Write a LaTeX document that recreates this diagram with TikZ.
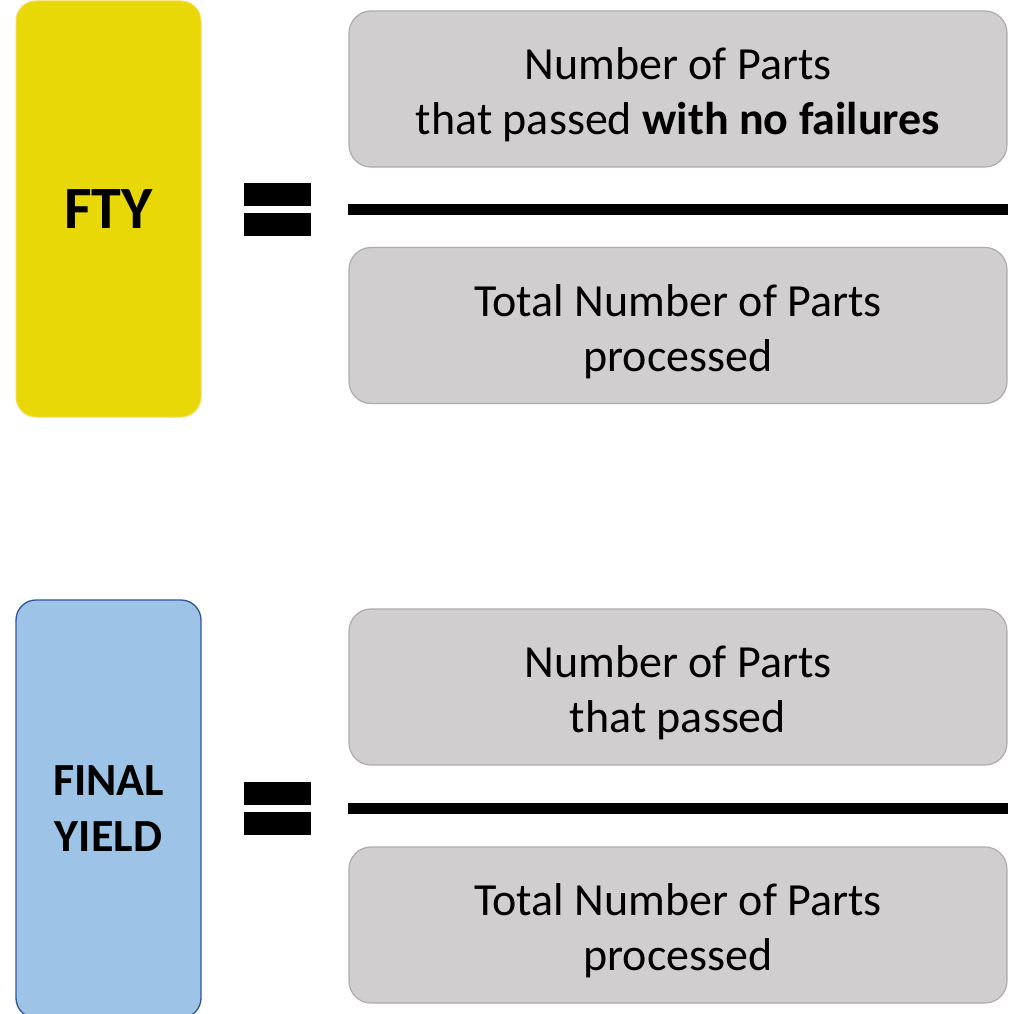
\documentclass[tikz,border=0pt]{standalone}
\usepackage{fontspec}
\setmainfont{Carlito}
\definecolor{ftyfill}{RGB}{232,216,8}
\definecolor{ftyedge}{RGB}{246,220,90}
\definecolor{fyfill}{RGB}{157,195,230}
\definecolor{fyedge}{RGB}{47,85,151}
\definecolor{termfill}{RGB}{208,206,206}
\definecolor{termedge}{RGB}{175,171,171}
% tall strut on the first line so the two lines sit a little below the box centre
\newcommand{\topstrut}{\rule{0pt}{44pt}}
\begin{document}
\begin{tikzpicture}[x=1pt,y=-1pt,
  label box/.style={rounded corners=20pt, minimum width=185pt, inner sep=0pt,
    align=center, font=\bfseries},
  term/.style={draw=termedge, line width=1.2pt, fill=termfill, rounded corners=22pt,
    minimum width=658pt, minimum height=156pt, inner sep=0pt, align=center,
    font=\fontsize{46}{55}\selectfont},
  eqbar/.style={fill=black, minimum width=67pt, minimum height=23pt, inner sep=0pt},
  fracline/.style={line width=11pt}
]
\useasboundingbox (0,0) rectangle (1017,1014);

% ---- First time yield ----
\node[label box, draw=ftyedge, line width=1pt, fill=ftyfill, minimum height=416pt,
  font=\bfseries\fontsize{60}{70}\selectfont] (fty) at (108.5,209) {FTY};
\node[eqbar] (eqA1) at (277.5,194.5) {};
\node[eqbar] (eqA2) at (277.5,224) {};
\node[term] (numA) at (678,89) {\topstrut Number of Parts\\that passed \textbf{with no failures}};
\node[term] (denA) at (678,325.5) {\topstrut Total Number of Parts\\processed};
\draw[fracline] (numA.west |- 0,209.5) -- (numA.east |- 0,209.5);

% ---- Final yield ----
\node[label box, draw=fyedge, line width=1.3pt, fill=fyfill, minimum height=418pt,
  font=\bfseries\fontsize{46}{56}\selectfont] (fy) at (108.5,809) {FINAL\\YIELD};
\node[eqbar] (eqB1) at (277.5,793) {};
\node[eqbar] (eqB2) at (277.5,823.5) {};
\node[term] (numB) at (678,687) {\topstrut Number of Parts\\that passed};
\node[term] (denB) at (678,925) {\topstrut Total Number of Parts\\processed};
\draw[fracline] (numB.west |- 0,808.5) -- (numB.east |- 0,808.5);
\end{tikzpicture}
\end{document}
